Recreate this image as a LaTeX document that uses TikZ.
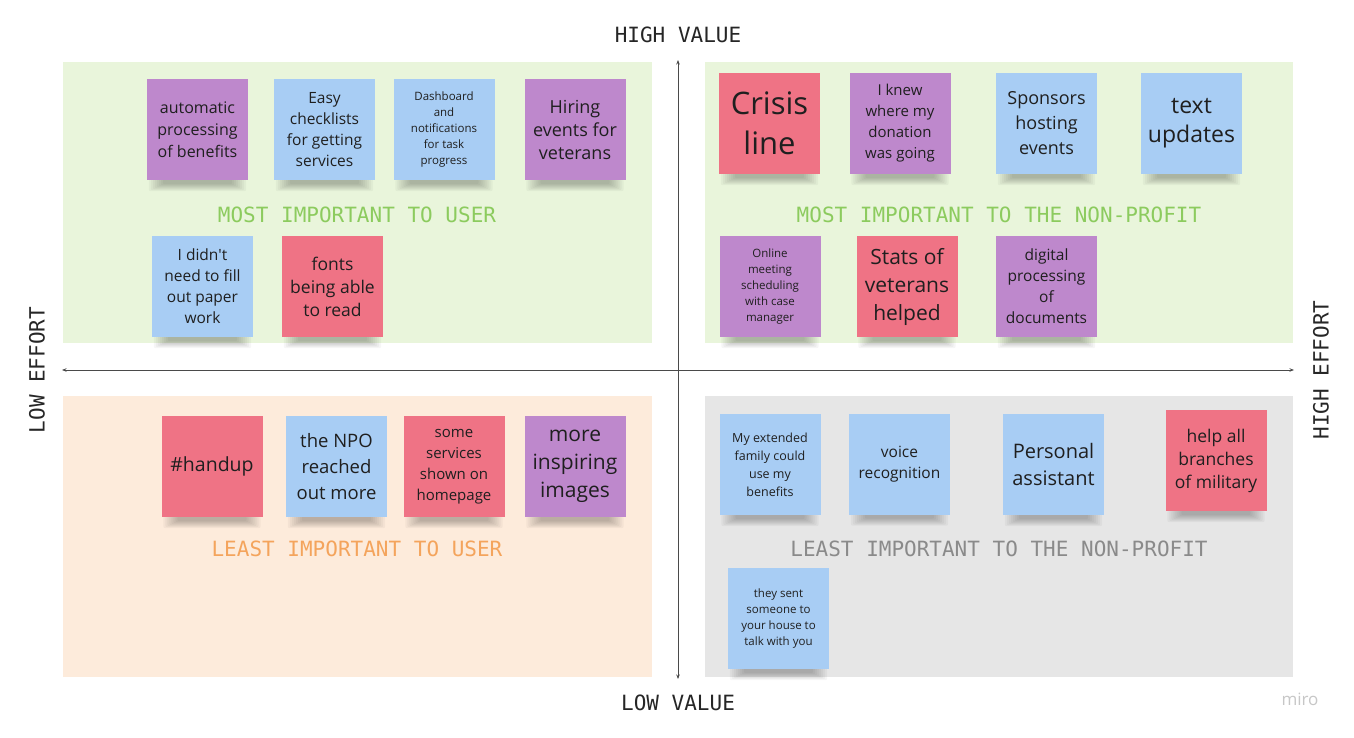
\documentclass[tikz,border=0pt]{standalone}
\usepackage{fontspec}
\setmainfont{Open Sans}
\setmonofont{DejaVu Sans Mono}
\usetikzlibrary{arrows.meta}
\pgfdeclarelayer{back}
\pgfdeclarelayer{shade}
\pgfsetlayers{back,shade,main}
\definecolor{qgreen}{HTML}{E9F5DB}
\definecolor{qpeach}{HTML}{FDEBDB}
\definecolor{qgray}{HTML}{E6E6E6}
\definecolor{lgreen}{HTML}{8CCB5E}
\definecolor{lorange}{HTML}{F4A45C}
\definecolor{lgray}{HTML}{8A8A8A}
\definecolor{npurple}{HTML}{BE88CC}
\definecolor{nblue}{HTML}{A8CDF4}
\definecolor{nred}{HTML}{EF7385}
\definecolor{axisc}{HTML}{4A4A4A}
\newcommand\shadelayer[3]{%
  \fill[black,opacity=.035, rounded corners=2pt] ([xshift=#2pt,yshift=1pt]#1.south west) rectangle ([xshift=-#2pt,yshift=-#3pt]#1.south east);}
\newcommand\stickynote[6]{%
  \node[note, fill=#3, font=\fontsize{#4}{#5}\selectfont] (#1) at (#2) {#6};
  \begin{pgfonlayer}{shade}
    \shadelayer{#1}{2}{11}
    \shadelayer{#1}{4}{10}
    \shadelayer{#1}{6}{9}
    \shadelayer{#1}{8}{8}
    \shadelayer{#1}{10}{7}
    \shadelayer{#1}{12}{6}
    \shadelayer{#1}{14}{5}
    \shadelayer{#1}{16}{4}
  \end{pgfonlayer}}
\tikzset{
  note/.style={rectangle, draw=none, minimum width=101pt, minimum height=101pt, inner sep=2pt, align=center, text=black!88},
  quadlabel/.style={font=\ttfamily\fontsize{21}{24}\selectfont},
  axislabel/.style={font=\ttfamily\fontsize{21}{24}\selectfont, text=black!85},
  axisline/.style={draw=axisc, line width=0.9pt, {Stealth[length=4.5pt,width=3.5pt]}-{Stealth[length=4.5pt,width=3.5pt]}}
}
\begin{document}
\begin{tikzpicture}[x=1pt,y=-1pt]
\begin{pgfonlayer}{back}
  \fill[white] (0,0) rectangle (1354,738);
  \fill[qgreen] (63,62) rectangle (652,343);
  \fill[qgreen] (705,62) rectangle (1293,343);
  \fill[qpeach] (63,396) rectangle (652,677);
  \fill[qgray] (705,396) rectangle (1293,677);
\end{pgfonlayer}
\useasboundingbox (0,0) rectangle (1354,738);
% axes
\coordinate (vtop) at (678,60);
\coordinate (vbot) at (678,679);
\coordinate (hleft) at (62,370);
\coordinate (hright) at (1294,370);
\draw[axisline] (vbot) -- (vtop);
\draw[axisline] (hleft) -- (hright);
\node[axislabel] (hv) at (678,35) {HIGH VALUE};
\node[axislabel] (lv) at (678,703) {LOW VALUE};
\node[axislabel, rotate=90] (le) at (37,370) {LOW EFFORT};
\node[axislabel, rotate=90] (he) at (1321,370) {HIGH EFFORT};
% quadrant labels
\node[quadlabel, text=lgreen] (lab1) at (357,215) {MOST IMPORTANT TO USER};
\node[quadlabel, text=lgreen] (lab2) at (999,215) {MOST IMPORTANT TO THE NON-PROFIT};
\node[quadlabel, text=lorange] (lab3) at (357,549) {LEAST IMPORTANT TO USER};
\node[quadlabel, text=lgray] (lab4) at (999,549) {LEAST IMPORTANT TO THE NON-PROFIT};
% top-left
\stickynote{a1}{197.5,129.5}{npurple}{16}{22}{automatic\\processing\\of benefits}
\stickynote{a2}{324.5,129.5}{nblue}{15.5}{21}{Easy\\checklists\\for getting\\services}
\stickynote{a3}{444,129.5}{nblue}{11.5}{16}{Dashboard\\and\\notifications\\for task\\progress}
\stickynote{a4}{575,129.5}{npurple}{18}{23}{Hiring\\events for\\veterans}
\stickynote{a5}{202.5,286.5}{nblue}{15.5}{21}{I didn\textquotesingle t\\need to fill\\out paper\\work}
\stickynote{a6}{332.5,286.5}{nred}{17.5}{23}{fonts\\being able\\to read}
% top-right
\stickynote{b1}{769.5,123.5}{nred}{31}{40}{Crisis\\line}
\stickynote{b2}{900,123.5}{npurple}{15}{21}{I knew\\where my\\donation\\was going}
\stickynote{b3}{1046.5,123.5}{nblue}{18}{25}{Sponsors\\hosting\\events}
\stickynote{b4}{1191.5,123.5}{nblue}{23}{29}{text\\updates}
\stickynote{b5}{770,286.5}{npurple}{11.5}{16}{Online\\meeting\\scheduling\\with case\\manager}
\stickynote{b6}{907,286.5}{nred}{21}{28}{Stats of\\veterans\\helped}
\stickynote{b7}{1046.5,286.5}{npurple}{15.5}{21}{digital\\processing\\of\\documents}
% bottom-left
\stickynote{c1}{212,466.5}{nred}{19.5}{24}{\#handup}
\stickynote{c2}{336.5,466.5}{nblue}{18.5}{26}{the NPO\\reached\\out more}
\stickynote{c3}{454,466.5}{nred}{15}{21}{some\\services\\shown on\\homepage}
\stickynote{c4}{575,466.5}{npurple}{21}{28}{more\\inspiring\\images}
% bottom-right
\stickynote{d1}{770,464.5}{nblue}{12.5}{18}{My extended\\family could\\use my\\benefits}
\stickynote{d2}{899.5,464}{nblue}{15.5}{21}{voice\\recognition}
\stickynote{d3}{1053.5,464.5}{nblue}{20}{27}{Personal\\assistant}
\stickynote{d4}{1216,460.5}{nred}{17.5}{23}{help all\\branches\\of military}
\stickynote{d5}{778.5,618.5}{nblue}{11.5}{16}{they sent\\someone to\\your house to\\talk with you}
\node[font=\fontsize{17}{20}\selectfont, text=black!22] (miro) at (1300,699) {miro};
\end{tikzpicture}
\end{document}
